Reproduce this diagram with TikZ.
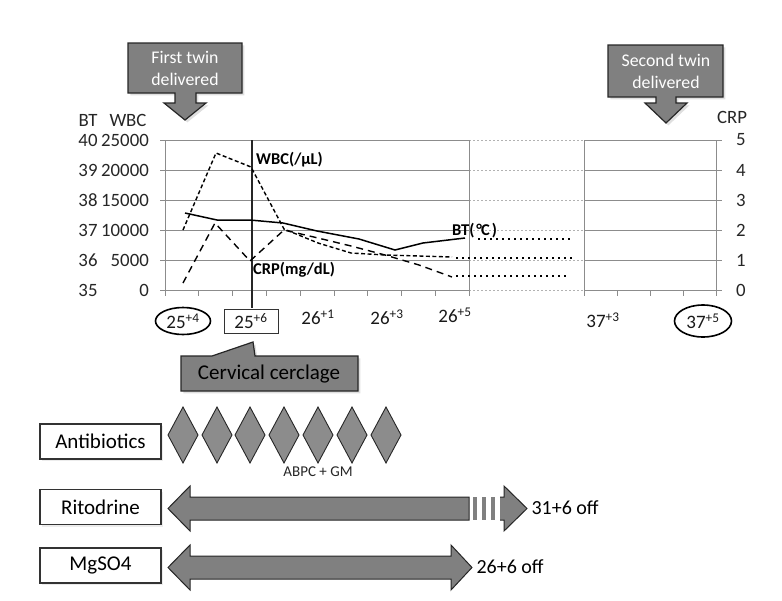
\documentclass[tikz,border=0pt]{standalone}
\usepackage{fontspec}
\setmainfont{Carlito}
\usetikzlibrary{%
  calc,%
  shadows%
}
\tikzset{>=latex}
\tikzset{
  gridln/.style={black!45,line width=0.8pt},
  gridfade/.style={black!30,line width=0.8pt,dash pattern=on 2pt off 2pt},
  wbcln/.style={line width=1.4pt,dash pattern=on 4pt off 2.5pt},
  crpln/.style={line width=1.4pt,dash pattern=on 7pt off 5pt},
  btln/.style={line width=1.5pt},
  contln/.style={line width=1.6pt,dash pattern=on 1.6pt off 4.4pt},
  callout/.style={fill=black!50,draw=black!85,line width=1.2pt,drop shadow={opacity=0.25}},
  band/.style={fill=black!50,draw=black!85,line width=1pt},
  lblbox/.style={draw=black!80,fill=white,line width=1.1pt,minimum width=121pt,
    minimum height=35pt,inner sep=0pt,font=\fontsize{21}{21}\selectfont,
    drop shadow={opacity=0.15}},
  axnum/.style={black!85,inner sep=0pt,font=\fontsize{18.8}{18.8}\selectfont},
  daylbl/.style={black!90,inner sep=0pt,font=\fontsize{19}{19}\selectfont},
  serlbl/.style={black,inner sep=0pt,anchor=west,font=\fontsize{16.5}{16.5}\selectfont\bfseries}
}

\begin{document}
\begin{tikzpicture}[x=1pt,y=-1pt]
  \useasboundingbox (0,0) rectangle (782,600);
  % grid
  \foreach \k in {0,...,5}{
    \draw[gridln] (160,290-30*\k) -- (469,290-30*\k);
    \draw[gridfade] (469,290-30*\k) -- (584,290-30*\k);
    \draw[gridln] (584,290-30*\k) -- (722,290-30*\k);
  }
  \foreach \x in {165,469,584,716}
    \draw[gridln] (\x,140) -- (\x,296);
  \foreach \i in {1,...,8}
    \draw[gridln] ({165+33.78*\i},290) -- ++(0,6);
  \foreach \x in {617,650,683}
    \draw[gridln] (\x,290) -- ++(0,6);
  % axis labels
  \node[axnum] (btax) at (88,120) {BT};
  \node[axnum] (wbcax) at (128,120) {WBC};
  \node[axnum] (crpax) at (732,117) {CRP};
  \foreach \k/\bt/\wbc in {0/35/0,1/36/5000,2/37/10000,3/38/15000,4/39/20000,5/40/25000}{
    \node[axnum] (btv\k) at (88,290-30*\k) {\bt};
    \node[axnum,anchor=east] (wbcv\k) at (149,290-30*\k) {\wbc};
    \node[axnum] (crpv\k) at (741,290-30*\k) {\k};
  }
  % cerclage day
  \draw[black!85,line width=1.1pt] (252,140) -- (252,308);
  % data
  \draw[btln] plot coordinates {(185,213) (217,220) (250,220) (283,223) (317,231)
    (359,239) (395,250) (423,243) (465,238)};
  \draw[wbcln] plot coordinates {(183,230) (216,153) (251,167) (284,229) (318,243)
    (351,253) (385,255) (419,256) (452,257)};
  \draw[crpln] plot coordinates {(183,283) (215,223) (250,261) (284,230) (318,238)
    (351,246) (385,255) (419,265) (452,277)};
  \draw[contln] (478,239) -- (570,239);
  \draw[contln] (456,258) -- (575,258);
  \draw[contln] (456,276) -- (568,276);
  \node[serlbl] (wbclbl) at (256,160) {WBC(/μL)};
  \node[serlbl] (crplbl) at (253,270) {CRP(mg/dL)};
  \node[serlbl] (btlbl) at (452,231) {BT(\kern2pt°\kern-1pt C\kern2pt)};
  % days
  \node[daylbl] (d254) at (183,321) {25\textsuperscript{+4}};
  \draw[black,line width=1.6pt] (d254.center) ellipse (27.5 and 13.5);
  \node[daylbl,draw=black!80,line width=1pt,minimum width=54pt,minimum height=24pt]
    (d256) at (251,321) {25\textsuperscript{+6}};
  \node[daylbl] (d261) at (318,317) {26\textsuperscript{+1}};
  \node[daylbl] (d263) at (387,317) {26\textsuperscript{+3}};
  \node[daylbl] (d265) at (455,315) {26\textsuperscript{+5}};
  \node[daylbl] (d373) at (603,320) {37\textsuperscript{+3}};
  \node[daylbl] (d375) at (703,321) {37\textsuperscript{+5}};
  \draw[black,line width=1.6pt] (d375.center) ellipse (28.5 and 16);
  % callouts
  \draw[callout] (128,43) -- (242,43) -- (242,93) -- (196,93) -- (196,103)
    -- (206,103) -- (185,120) -- (164,103) -- (175,103) -- (175,93)
    -- (128,93) -- cycle;
  \node[white,align=center,font=\fontsize{17.8}{22}\selectfont] (twin1) at (185,68)
    {First twin\\delivered};
  \draw[callout] (608,45) -- (723,45) -- (723,97) -- (676,97) -- (676,103)
    -- (687,103) -- (666,123) -- (645,103) -- (656,103) -- (656,97)
    -- (608,97) -- cycle;
  \node[white,align=center,font=\fontsize{17.8}{22}\selectfont] (twin2) at (666,71)
    {Second twin\\delivered};
  \draw[callout] (181,356) -- (212,356) -- (253,342) -- (255,356) -- (358,356)
    -- (358,391) -- (181,391) -- cycle;
  \node[black,font=\fontsize{21}{21}\selectfont] (cercl) at (269,374)
    {Cervical cerclage};
  % treatments
  \node[lblbox] (abx) at (100.5,441.5) {Antibiotics};
  \node[lblbox] (rito) at (100.5,507) {Ritodrine};
  \node[lblbox] (mgso) at (100.5,565.5) {MgSO4};
  \foreach \x in {183,217,250,284,318,352,386}
    \draw[band,fill=black!45,line width=0.9pt] (\x-15,435) -- (\x,407) -- (\x+15,435)
      -- (\x,463) -- cycle;
  \node[black!85,font=\fontsize{15}{15}\selectfont] (abpc) at (318,472)
    {ABPC + GM};
  \draw[band] (168,508.5) -- (190,486) -- (190,497) -- (469,497) -- (469,520)
    -- (190,520) -- (190,531) -- cycle;
  \foreach \x in {473,482,491}
    \fill[black!50] (\x,497) rectangle (\x+4,520);
  \draw[band] (500,497) -- (504,497) -- (504,486) -- (527,508.5) -- (504,531)
    -- (504,520) -- (500,520);
  \node[black,anchor=west,font=\fontsize{20}{20}\selectfont] (ritooff)
    at (528,508) {31+6 off};
  \draw[band] (168,567.5) -- (190,545) -- (190,556) -- (451,556) -- (451,545)
    -- (472,567.5) -- (451,590) -- (451,579) -- (190,579) -- (190,590) -- cycle;
  \node[black,anchor=west,font=\fontsize{20}{20}\selectfont] (mgoff)
    at (473,567) {26+6 off};
\end{tikzpicture}
\end{document}
